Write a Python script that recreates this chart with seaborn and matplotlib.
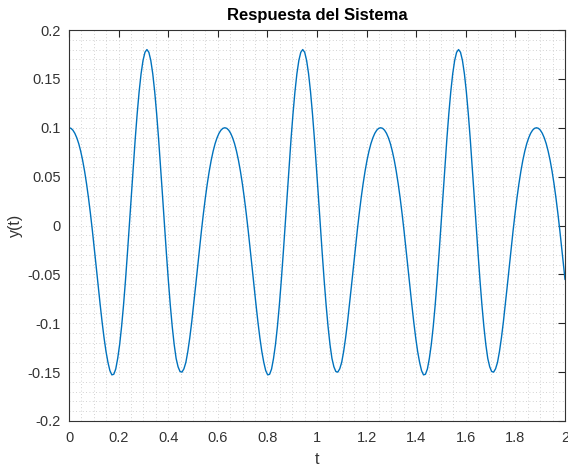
import numpy as np
import matplotlib
matplotlib.use('Agg')
import matplotlib.pyplot as plt
import seaborn as sns
from matplotlib.ticker import MultipleLocator

# valores (muestreo cada pi/400 s, ultimo punto en t=2)
y = [
    0.1000, 0.0994, 0.0975, 0.0943, 0.0897, 0.0837, 0.0760, 0.0667, 0.0556, 0.0428,
    0.0283, 0.0122, -0.0052, -0.0237, -0.0428, -0.0620, -0.0809, -0.0988, -0.1150, -0.1289,
    -0.1400, -0.1485, -0.1528, -0.1522, -0.1468, -0.1360, -0.1218, -0.1034, -0.0813, -0.0560,
    -0.0283, 0.0010, 0.0309, 0.0604, 0.0886, 0.1143, 0.1368, 0.1552, 0.1688, 0.1772,
    0.1800, 0.1772, 0.1688, 0.1552, 0.1368, 0.1143, 0.0886, 0.0604, 0.0309, 0.0010,
    -0.0283, -0.0560, -0.0813, -0.1034, -0.1218, -0.1360, -0.1446, -0.1494, -0.1500, -0.1466,
    -0.1400, -0.1289, -0.1150, -0.0988, -0.0809, -0.0620, -0.0428, -0.0237, -0.0052, 0.0122,
    0.0283, 0.0428, 0.0556, 0.0667, 0.0760, 0.0837, 0.0897, 0.0943, 0.0975, 0.0994,
    0.1000, 0.0994, 0.0975, 0.0943, 0.0897, 0.0837, 0.0760, 0.0667, 0.0556, 0.0428,
    0.0283, 0.0122, -0.0052, -0.0237, -0.0428, -0.0620, -0.0809, -0.0988, -0.1150, -0.1289,
    -0.1400, -0.1485, -0.1528, -0.1522, -0.1468, -0.1360, -0.1218, -0.1034, -0.0813, -0.0560,
    -0.0283, 0.0010, 0.0309, 0.0604, 0.0886, 0.1143, 0.1368, 0.1552, 0.1688, 0.1772,
    0.1800, 0.1772, 0.1688, 0.1552, 0.1368, 0.1143, 0.0886, 0.0604, 0.0309, 0.0010,
    -0.0283, -0.0560, -0.0813, -0.1034, -0.1218, -0.1360, -0.1446, -0.1494, -0.1500, -0.1466,
    -0.1400, -0.1289, -0.1150, -0.0988, -0.0809, -0.0620, -0.0428, -0.0237, -0.0052, 0.0122,
    0.0283, 0.0428, 0.0556, 0.0667, 0.0760, 0.0837, 0.0897, 0.0943, 0.0975, 0.0994,
    0.1000, 0.0994, 0.0975, 0.0943, 0.0897, 0.0837, 0.0760, 0.0667, 0.0556, 0.0428,
    0.0283, 0.0122, -0.0052, -0.0237, -0.0428, -0.0620, -0.0809, -0.0988, -0.1150, -0.1289,
    -0.1400, -0.1485, -0.1528, -0.1522, -0.1468, -0.1360, -0.1218, -0.1034, -0.0813, -0.0560,
    -0.0283, 0.0010, 0.0309, 0.0604, 0.0886, 0.1143, 0.1368, 0.1552, 0.1688, 0.1772,
    0.1800, 0.1772, 0.1688, 0.1552, 0.1368, 0.1143, 0.0886, 0.0604, 0.0309, 0.0010,
    -0.0283, -0.0560, -0.0813, -0.1034, -0.1218, -0.1360, -0.1446, -0.1494, -0.1500, -0.1466,
    -0.1400, -0.1289, -0.1150, -0.0988, -0.0809, -0.0620, -0.0428, -0.0237, -0.0052, 0.0122,
    0.0283, 0.0428, 0.0556, 0.0667, 0.0760, 0.0837, 0.0897, 0.0943, 0.0975, 0.0994,
    0.1000, 0.0994, 0.0975, 0.0943, 0.0897, 0.0837, 0.0760, 0.0667, 0.0556, 0.0428,
    0.0283, 0.0122, -0.0052, -0.0237, -0.0428, -0.0553,
]
t = np.append(np.arange(len(y) - 1) * np.pi / 400, 2.0)

xticks = [0, 0.2, 0.4, 0.6, 0.8, 1.0, 1.2, 1.4, 1.6, 1.8, 2.0]
xlabels = ['0', '0.2', '0.4', '0.6', '0.8', '1', '1.2', '1.4', '1.6', '1.8', '2']
yticks = [-0.2, -0.15, -0.1, -0.05, 0, 0.05, 0.1, 0.15, 0.2]
ylabels = ['-0.2', '-0.15', '-0.1', '-0.05', '0', '0.05', '0.1', '0.15', '0.2']

sns.set_theme(style='white')
plt.rcParams['font.family'] = ['Liberation Sans', 'DejaVu Sans']

fig = plt.figure(figsize=(5.68, 4.70), dpi=100)
ax = fig.add_axes([69 / 568, 1 - 421 / 470, 496 / 568, 391 / 470])

sns.lineplot(x=t, y=y, ax=ax, color='#0072BD', linewidth=1.0)

ax.set_xlim(0, 2)
ax.set_ylim(-0.2, 0.2)
ax.set_xticks(xticks)
ax.set_xticklabels(xlabels)
ax.set_yticks(yticks)
ax.set_yticklabels(ylabels)
ax.xaxis.set_minor_locator(MultipleLocator(0.05))
ax.yaxis.set_minor_locator(MultipleLocator(0.01))

# grid minor estilo matlab
ax.grid(which='both', linestyle=(0, (1, 3)), color='#c4c4c4', linewidth=0.6)
ax.tick_params(which='major', direction='in', top=True, right=True, length=5,
               width=0.8, color='#262626', labelcolor='#333333', labelsize=10.5)
ax.tick_params(axis='x', which='major', pad=7)
ax.tick_params(axis='y', which='major', pad=6)
ax.tick_params(which='minor', length=0)
for s in ax.spines.values():
    s.set_color('#333333')
    s.set_linewidth(0.8)

ax.set_title('Respuesta del Sistema', fontsize=12, fontweight='bold', color='black', pad=7)
ax.set_xlabel('t', fontsize=11.5, color='#333333', labelpad=5)
ax.set_ylabel('y(t)', fontsize=11.5, color='#333333', labelpad=3)

fig.savefig('out.png', dpi=100)
